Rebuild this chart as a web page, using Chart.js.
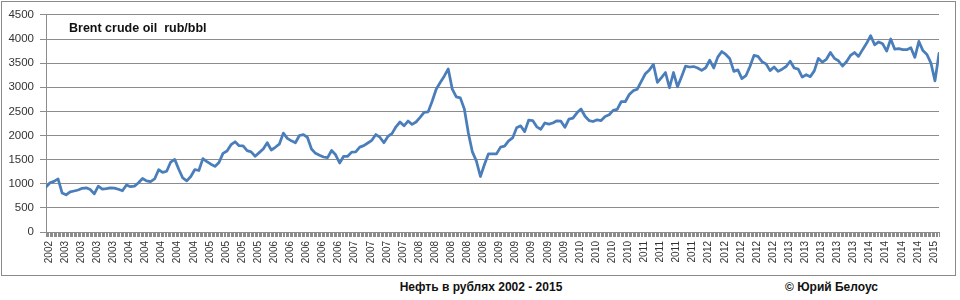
<!DOCTYPE html>
<html>
<head>
<meta charset="utf-8">
<script src="https://cdn.jsdelivr.net/npm/chart.js@4.4.1/dist/chart.umd.min.js"></script>
<style>
  body { margin: 0; background: #fff; font-family: 'Liberation Sans', Arial, sans-serif; }
  #wrap { position: absolute; left: 0; top: 0; width: 960px; height: 300px; }
  #box { position: absolute; left: 1px; top: 1px; width: 955px; height: 275px; box-sizing: border-box; border: 1px solid #8a8a8a; }
  #box canvas { position: absolute; left: 0; top: 0; }
  .lbl { position: absolute; font-weight: bold; white-space: pre; color: #111; line-height: 1; }
</style>
</head>
<body>
<div id="wrap">
  <div id="box"><canvas id="c" width="953" height="273"></canvas></div>
  <div class="lbl" style="left:69px; top:22px; font-size:12.5px;">Brent crude oil  rub/bbl</div>
  <div class="lbl" style="left:381px; top:281px; width:200px; text-align:center; font-size:12px;">Нефть в рублях 2002 - 2015</div>
  <div class="lbl" style="left:785px; top:281px; font-size:12px;">© Юрий Белоус</div>
</div>
<script>
// Brent in roubles per barrel, one reading every 3 weeks (week 0 = late 2002)
const stepWeeks = 3;
const totalWeeks = 666;
const labelEvery = 12; // a year label every 12 weeks

const tickYears = [
  '2002',
  '2003', '2003', '2003', '2003',
  '2004', '2004', '2004', '2004', '2004',
  '2005', '2005', '2005', '2005',
  '2006', '2006', '2006', '2006', '2006',
  '2007', '2007', '2007', '2007',
  '2008', '2008', '2008', '2008', '2008',
  '2009', '2009', '2009', '2009', '2009',
  '2010', '2010', '2010', '2010',
  '2011', '2011', '2011', '2011',
  '2012', '2012', '2012', '2012', '2012',
  '2013', '2013', '2013', '2013', '2013',
  '2014', '2014', '2014', '2014',
  '2015'
];

const rubPerBbl = [
  930, 1020, 1050, 1100, 810, 770, 830, 850, 870, 905,
  915, 880, 790, 950, 890, 900, 915, 910, 885, 855,
  975, 940, 950, 1020, 1110, 1060, 1045, 1100, 1290, 1235,
  1260, 1450, 1505, 1300, 1120, 1060, 1150, 1295, 1275, 1520,
  1460, 1405, 1360, 1440, 1630, 1680, 1810, 1870, 1790, 1785,
  1686, 1660, 1570, 1645, 1720, 1850, 1700, 1756, 1820, 2050,
  1940, 1890, 1850, 2000, 2020, 1960, 1720, 1630, 1590, 1555,
  1540, 1690, 1600, 1430, 1570, 1570, 1655, 1660, 1760, 1790,
  1845, 1900, 2020, 1965, 1850, 1980, 2040, 2180, 2280, 2200,
  2300, 2230, 2280, 2375, 2480, 2490, 2710, 2960, 3100, 3230,
  3380, 2960, 2800, 2780, 2550, 2050, 1660, 1470, 1150, 1400,
  1620, 1620, 1620, 1760, 1780, 1890, 1950, 2160, 2200, 2080,
  2320, 2310, 2180, 2130, 2260, 2235, 2260, 2305, 2296, 2170,
  2340, 2360, 2470, 2550, 2400, 2310, 2290, 2325, 2310, 2395,
  2430, 2520, 2540, 2700, 2700, 2850, 2930, 2960, 3120, 3280,
  3360, 3475, 3100, 3200, 3306, 2990, 3306, 3010, 3220, 3440,
  3420, 3430, 3400, 3350, 3405, 3560, 3400, 3625, 3740, 3680,
  3590, 3330, 3360, 3180, 3240, 3430, 3660, 3640, 3530, 3485,
  3345, 3420, 3330, 3375, 3430, 3540, 3400, 3375, 3210, 3260,
  3220, 3340, 3600, 3520, 3580, 3720, 3600, 3549, 3440, 3530,
  3660, 3720, 3640, 3780, 3910, 4070, 3880, 3940, 3900, 3750,
  4000, 3790, 3800, 3780, 3780, 3820, 3620, 3950, 3760, 3680,
  3500, 3132, 3700
];

const yTicks = [0, 500, 1000, 1500, 2000, 2500, 3000, 3500, 4000, 4500];

const points = rubPerBbl.map((v, i) => ({ x: i * stepWeeks, y: v }));

const gridGrey = '#8c8c8c';
const font = 'Liberation Sans, Arial, sans-serif';

new Chart(document.getElementById('c'), {
  type: 'line',
  data: {
    datasets: [{
      data: points,
      borderColor: '#4a7ebb',
      borderWidth: 2.75,
      pointRadius: 0,
      tension: 0,
      borderJoinStyle: 'round',
      borderCapStyle: 'round'
    }]
  },
  options: {
    responsive: false,
    animation: false,
    layout: { padding: { top: 12, right: 12, left: 0, bottom: 0 } },
    plugins: { legend: { display: false }, tooltip: { enabled: false } },
    scales: {
      x: {
        type: 'linear',
        min: 0,
        max: totalWeeks,
        afterFit: (s) => { s.height = 43; },
        grid: { drawOnChartArea: false, drawTicks: true, tickLength: 5, color: gridGrey },
        border: { display: true, color: gridGrey },
        ticks: {
          stepSize: 1,
          autoSkip: false,
          maxRotation: 90,
          minRotation: 90,
          padding: 4,
          labelOffset: 3,
          color: '#333',
          font: { family: font, size: 10 },
          callback: (v) => (v % labelEvery === 0 && tickYears[v / labelEvery]) ? tickYears[v / labelEvery] : ''
        }
      },
      y: {
        min: yTicks[0],
        max: yTicks[yTicks.length - 1],
        afterFit: (s) => { s.width = 44; },
        grid: { color: gridGrey, tickLength: 6 },
        border: { display: true, color: gridGrey },
        ticks: {
          stepSize: 500,
          padding: 6,
          color: '#333',
          font: { family: font, size: 11.5 },
          callback: (v) => String(v)
        }
      }
    }
  }
});
</script>
</body>
</html>
